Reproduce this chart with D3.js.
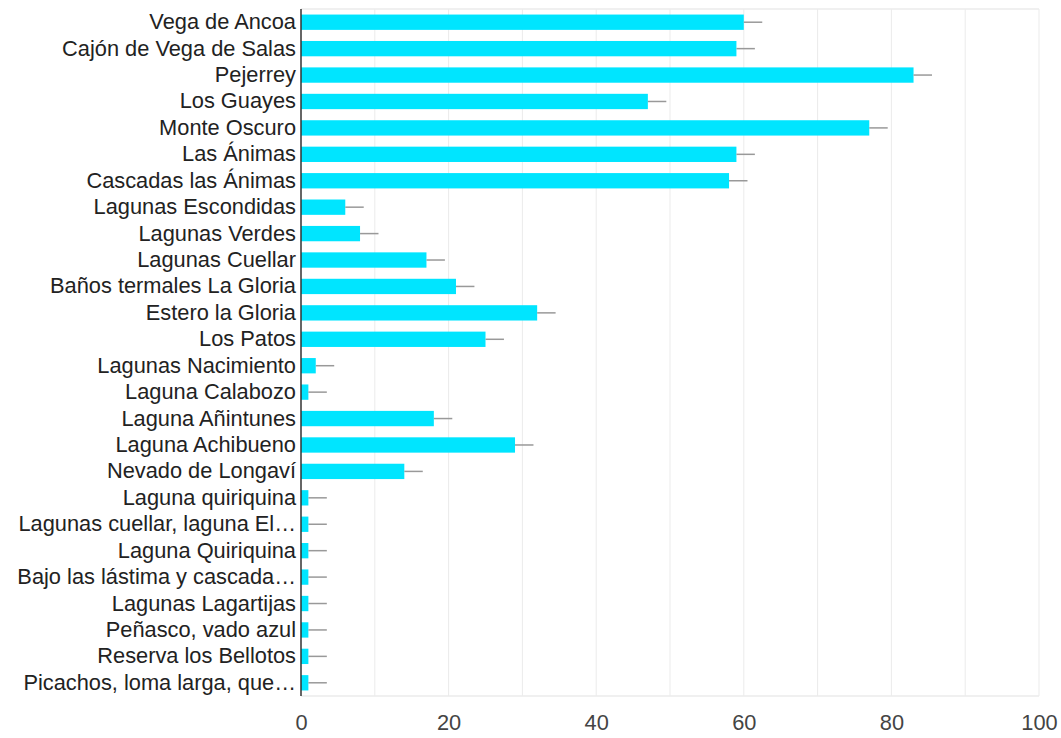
<!DOCTYPE html>
<html>
<head>
<meta charset="utf-8">
<script src="https://cdn.jsdelivr.net/npm/d3@7/dist/d3.min.js"></script>
<style>
  html, body { margin: 0; padding: 0; background: #fff; }
  svg { display: block; font-family: "Liberation Sans", Arial, sans-serif; }
</style>
</head>
<body>
<svg id="chart" width="1061" height="738"></svg>
<script>
// Destinations and their response counts
const categories = [
  "Vega de Ancoa", "Cajón de Vega de Salas", "Pejerrey", "Los Guayes",
  "Monte Oscuro", "Las Ánimas", "Cascadas las Ánimas", "Lagunas Escondidas",
  "Lagunas Verdes", "Lagunas Cuellar", "Baños termales La Gloria",
  "Estero la Gloria", "Los Patos", "Lagunas Nacimiento", "Laguna Calabozo",
  "Laguna Añintunes", "Laguna Achibueno", "Nevado de Longaví",
  "Laguna quiriquina", "Lagunas cuellar, laguna El…", "Laguna Quiriquina",
  "Bajo las lástima y cascada…", "Lagunas Lagartijas", "Peñasco, vado azul",
  "Reserva los Bellotos", "Picachos, loma larga, que…"
];
const values = [60, 59, 83, 47, 77, 59, 58, 6, 8, 17, 21, 32, 25, 2, 1, 18, 29, 14,
                1, 1, 1, 1, 1, 1, 1, 1];
// Upper interval width for each bar
const errors = [2.5, 2.5, 2.5, 2.5, 2.5, 2.5, 2.5, 2.5, 2.5, 2.5, 2.5, 2.5, 2.5,
                2.5, 2.5, 2.5, 2.5, 2.5, 2.5, 2.5, 2.5, 2.5, 2.5, 2.5, 2.5, 2.5];
const xTicks = [0, 20, 40, 60, 80, 100];
const xGrid = [10, 20, 30, 40, 50, 60, 70, 80, 90, 100];

const rows = categories.map((c, i) => ({ name: c, value: values[i], err: errors[i] }));

const svg = d3.select("#chart");
const plot = { left: 301, right: 1039, top: 9, bottom: 696 };

const x = d3.scaleLinear().domain([0, 100]).range([plot.left, plot.right]);
const y = d3.scaleBand().domain(categories).range([plot.top, plot.bottom])
  .paddingInner(0.42).paddingOuter(0.21);

// Vertical gridlines
svg.append("g").selectAll("line").data(xGrid).join("line")
  .attr("x1", d => x(d)).attr("x2", d => x(d))
  .attr("y1", plot.top).attr("y2", plot.bottom)
  .attr("stroke", "#ebebeb").attr("stroke-width", 1);

// Plot frame (top and bottom)
svg.append("line").attr("x1", plot.left).attr("x2", plot.right)
  .attr("y1", plot.top).attr("y2", plot.top)
  .attr("stroke", "#ebebeb").attr("stroke-width", 1.5);
svg.append("line").attr("x1", plot.left).attr("x2", plot.right)
  .attr("y1", plot.bottom).attr("y2", plot.bottom)
  .attr("stroke", "#ebebeb").attr("stroke-width", 1.5);

// Bars
svg.append("g").selectAll("rect").data(rows).join("rect")
  .attr("x", x(0))
  .attr("y", d => y(d.name))
  .attr("width", d => x(d.value) - x(0))
  .attr("height", y.bandwidth())
  .attr("fill", "#00e5ff");

// Interval lines
svg.append("g").selectAll("line").data(rows).join("line")
  .attr("x1", d => x(d.value)).attr("x2", d => x(d.value + d.err))
  .attr("y1", d => y(d.name) + y.bandwidth() / 2)
  .attr("y2", d => y(d.name) + y.bandwidth() / 2)
  .attr("stroke", "#999").attr("stroke-width", 1.5);

// Category axis
const yAxis = svg.append("g")
  .attr("transform", `translate(${plot.left},0)`)
  .call(d3.axisLeft(y).tickSize(0).tickPadding(5));
yAxis.select(".domain").attr("stroke", "#333").attr("stroke-width", 1.5)
  .attr("d", `M0,${plot.top}V${plot.bottom}`);
yAxis.selectAll("text").attr("font-size", 21.8).attr("fill", "#222")
  .attr("font-family", "'Liberation Sans', Arial, sans-serif");

// Value axis
const xAxis = svg.append("g")
  .attr("transform", `translate(0,${plot.bottom})`)
  .call(d3.axisBottom(x).tickValues(xTicks).tickSize(0).tickPadding(19));
xAxis.select(".domain").remove();
xAxis.selectAll("text").attr("font-size", 21.8).attr("fill", "#444")
  .attr("font-family", "'Liberation Sans', Arial, sans-serif");
</script>
</body>
</html>
